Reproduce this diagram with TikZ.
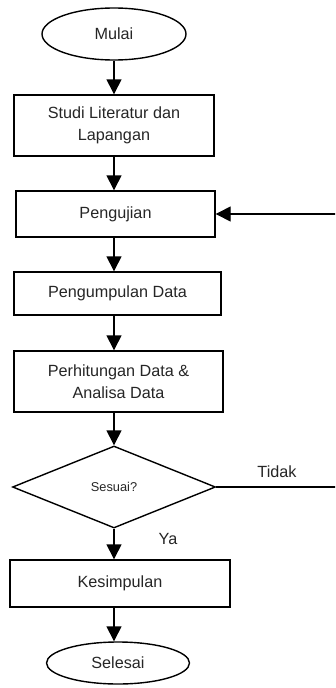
\documentclass[tikz,border=0pt]{standalone}
\usepackage{fontspec}
\setmainfont{Liberation Sans}
\usepackage{tikz}
\usetikzlibrary{arrows.meta,shapes.geometric,calc}

\begin{document}
\begin{tikzpicture}[x=1pt, y=-1pt,
  line width=1.4pt,
  txt/.style={font=\fontsize{16.2}{22.5}\selectfont, text=black!85, align=center},
  box/.style={txt, draw=black, rectangle, inner sep=2pt},
  term/.style={txt, draw=black, ellipse, inner sep=0pt},
  cek/.style={draw=black, diamond, aspect=2.48, inner sep=0pt, font=\fontsize{12.8}{15}\selectfont, text=black!85},
  arr/.style={-{Triangle[length=15pt, width=15pt]}, black},
  lab/.style={txt, inner sep=1pt}
]
\clip (0,0) rectangle (335,688);
\fill[white] (0,0) rectangle (335,688);
\node[term, minimum width=144pt, minimum height=52pt] (mulai)   at (114,34)    {Mulai};
\node[box,  minimum width=200pt, minimum height=61pt] (studi)   at (114,125.5) {Studi Literatur dan\\Lapangan};
\node[box,  minimum width=199pt, minimum height=46pt] (uji)     at (115.5,214) {Pengujian};
\node[box,  minimum width=207pt, minimum height=43pt] (kumpul)  at (117.5,293.5) {Pengumpulan Data};
\node[box,  minimum width=209pt, minimum height=61pt] (hitung)  at (118.5,381.5) {Perhitungan Data \&\\Analisa Data};
\node[cek,  minimum width=203pt, minimum height=82pt] (sesuai)  at (114,487)   {Sesuai?};
\node[box,  minimum width=220pt, minimum height=47pt] (simpul)  at (120,583.5) {Kesimpulan};
\node[term, minimum width=143pt, minimum height=42pt] (selesai) at (118,663)   {Selesai};
\node[lab] (tidak) at (277,472) {Tidak};
\node[lab] (ya)    at (168,539) {Ya};
\coordinate (balik) at (340,487);
\draw[arr] (mulai.south) -- (mulai.south |- studi.north);
\draw[arr] (studi.south -| mulai) -- (uji.north -| mulai);
\draw[arr] (uji.south -| mulai) -- (kumpul.north -| mulai);
\draw[arr] (kumpul.south -| mulai) -- (hitung.north -| mulai);
\draw[arr] (hitung.south -| mulai) -- (sesuai.north);
\draw[arr] (sesuai.south) -- (simpul.north -| sesuai);
\draw[arr] (simpul.south -| sesuai) -- (selesai.north -| sesuai);
\draw[arr] (sesuai.east) -- (balik) |- (uji.east);
\end{tikzpicture}
\end{document}
